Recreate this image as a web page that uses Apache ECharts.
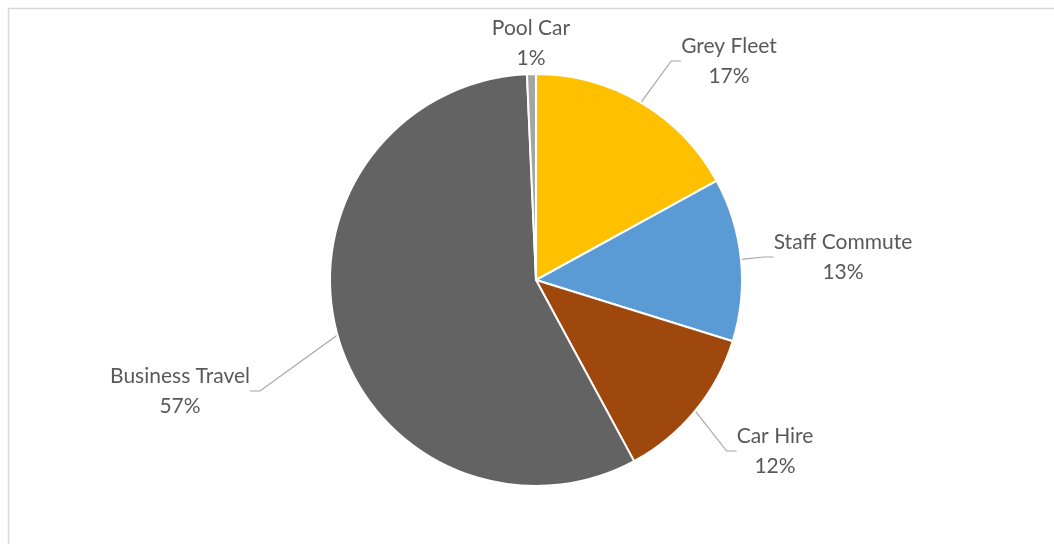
<!DOCTYPE html>
<html>
<head>
<meta charset="utf-8">
<script src="https://cdn.jsdelivr.net/npm/echarts@6/dist/echarts.min.js"></script>
<style>
  html, body { margin: 0; padding: 0; background: #fff; }
  #chart { width: 1054px; height: 544px; }
</style>
</head>
<body>
<div id="chart"></div>
<script>
// Share of fleet mileage by travel type (clockwise from 12 o'clock)
const categories = ['Grey Fleet', 'Staff Commute', 'Car Hire', 'Business Travel', 'Pool Car'];
const shares = [17.0, 12.8, 12.3, 57.2, 0.7];
const sliceColors = ['#FFC000', '#5B9BD5', '#9E480E', '#636363', '#A5A5A5'];

// Label anchor points (text centre), in pixels
const labelSpots = [
  [729, 61], [843, 257], [775, 451], [180, 391], [531, 43]
];

const chart = echarts.init(document.getElementById('chart'));

chart.setOption({
  backgroundColor: '#ffffff',
  animation: false,
  graphic: [{
    type: 'rect',
    shape: { x: 8.5, y: 8.5, width: 1100, height: 600 },
    style: { fill: 'none', stroke: '#d9d9d9', lineWidth: 1.5 },
    silent: true
  }],
  series: [{
    type: 'pie',
    center: [536, 280],
    radius: 206,
    startAngle: 90,
    clockwise: true,
    avoidLabelOverlap: false,
    itemStyle: { borderColor: '#ffffff', borderWidth: 2 },
    label: {
      show: true,
      position: 'outside',
      formatter: p => p.name + '\n' + Math.round(p.percent) + '%',
      fontFamily: 'Lato, "Open Sans", sans-serif',
      fontSize: 21,
      lineHeight: 30,
      color: '#595959',
      align: 'center'
    },
    labelLine: {
      show: true,
      length: 14,
      length2: 10,
      lineStyle: { color: '#a6a6a6', width: 1.2 }
    },
    labelLayout: params => ({
      x: labelSpots[params.dataIndex][0],
      y: labelSpots[params.dataIndex][1],
      align: 'center',
      verticalAlign: 'middle'
    }),
    data: categories.map((name, i) => ({
      name: name,
      value: shares[i],
      itemStyle: { color: sliceColors[i] },
      labelLine: { show: name !== 'Pool Car' }
    }))
  }]
});
</script>
</body>
</html>
